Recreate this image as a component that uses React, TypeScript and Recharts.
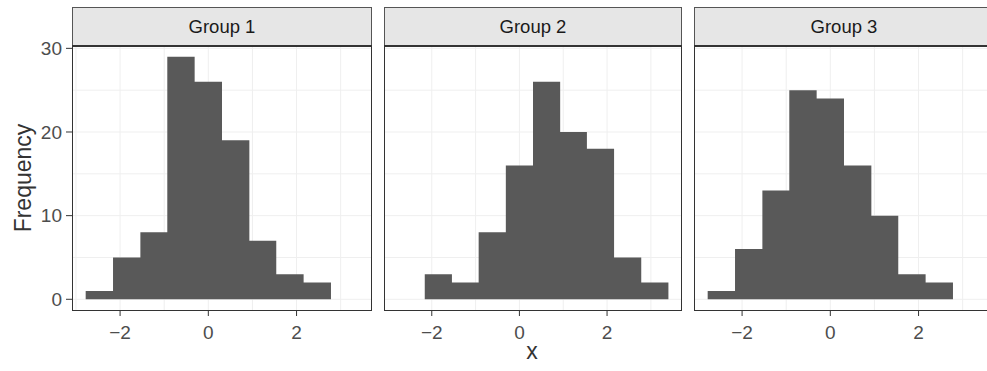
import { Area, AreaChart, CartesianGrid, XAxis, YAxis } from 'recharts';

const edgesA = [-2.78, -2.16, -1.54, -0.93, -0.31, 0.31, 0.93, 1.54, 2.16, 2.78];
const edgesB = [-2.16, -1.54, -0.93, -0.31, 0.31, 0.93, 1.54, 2.16, 2.78, 3.4];
const group1Counts = [1, 5, 8, 29, 26, 19, 7, 3, 2];
const group2Counts = [3, 2, 8, 16, 26, 20, 18, 5, 2];
const group3Counts = [1, 6, 13, 25, 24, 16, 10, 3, 2];
const groupNames = ['Group 1', 'Group 2', 'Group 3'];

const xTicks = [-2, 0, 2];
const xGrid = [-3, -2, -1, 0, 1, 2, 3];
const yTicks = [0, 10, 20, 30];
const yGrid = [0, 5, 10, 15, 20, 25, 30];

const X_DOMAIN: [number, number] = [-3.09, 3.71];
const Y_DOMAIN: [number, number] = [-1.4, 30.4];

const FONT = '"Liberation Sans", Arial, Helvetica, sans-serif';

function toSteps(edges: number[], counts: number[]) {
  return edges.map((x, i) => ({ x, count: counts[Math.min(i, counts.length - 1)] }));
}

const fmt = (v: number) => (v < 0 ? '\u2212' + Math.abs(v) : String(v));

interface PanelProps {
  name: string;
  edges: number[];
  counts: number[];
  left: number; // panel left edge
  width: number; // panel width
  showY?: boolean;
}

const PANEL_TOP = 45;
const PANEL_H = 266;
const Y_AXIS_W = 72;
const PAD_TOP = 20;

function Panel({ name, edges, counts, left, width, showY = false }: PanelProps) {
  const data = toSteps(edges, counts);
  const chartLeft = showY ? left - Y_AXIS_W : left;
  const chartW = showY ? width + Y_AXIS_W : width;
  return (
    <>
      <div
        style={{
          position: 'absolute',
          left,
          top: 7,
          width,
          height: PANEL_TOP - 7,
          boxSizing: 'border-box',
          background: '#e6e6e6',
          border: '1px solid #555',
          borderBottom: 'none',
          display: 'flex',
          alignItems: 'center',
          justifyContent: 'center',
          fontSize: 18.5,
          color: '#1a1a1a',
        }}
      >
        {name}
      </div>
      <div style={{ position: 'absolute', left: chartLeft, top: PANEL_TOP - PAD_TOP }}>
        <AreaChart
          width={chartW}
          height={PANEL_H + 34 + PAD_TOP}
          data={data}
          margin={{ top: PAD_TOP, right: 0, bottom: 0, left: 0 }}
        >
          <CartesianGrid stroke="#efefef" horizontalValues={yGrid} verticalValues={xGrid} />
          <XAxis
            type="number"
            dataKey="x"
            domain={X_DOMAIN}
            allowDataOverflow
            ticks={xTicks}
            tickFormatter={fmt}
            axisLine={false}
            tickLine={{ stroke: '#333' }}
            tickSize={5}
            tickMargin={10}
            height={34}
            tick={{ fontSize: 19, fill: '#4d4d4d', fontFamily: FONT }}
          />
          <YAxis
            type="number"
            domain={Y_DOMAIN}
            allowDataOverflow
            ticks={yTicks}
            interval={0}
            hide={!showY}
            width={Y_AXIS_W}
            axisLine={false}
            tickLine={{ stroke: '#333' }}
            tickSize={6}
            tickMargin={4}
            tick={{ fontSize: 19, fill: '#4d4d4d', fontFamily: FONT }}
          />
          <Area
            type="stepAfter"
            dataKey="count"
            baseValue={0}
            stroke="none"
            fill="#595959"
            fillOpacity={1}
            isAnimationActive={false}
          />
        </AreaChart>
      </div>
      <div
        style={{
          position: 'absolute',
          left,
          top: PANEL_TOP,
          width,
          height: PANEL_H,
          boxSizing: 'border-box',
          border: '1px solid #333',
          borderTopWidth: 2,
          pointerEvents: 'none',
        }}
      />
    </>
  );
}

export default function App() {
  return (
    <div
      style={{
        position: 'fixed',
        left: 0,
        top: 0,
        width: 987,
        height: 371,
        overflow: 'hidden',
        background: '#fff',
        fontFamily: FONT,
      }}
    >
      <Panel name={groupNames[0]} edges={edgesA} counts={group1Counts} left={72} width={300} showY />
      <Panel name={groupNames[1]} edges={edgesB} counts={group2Counts} left={384} width={298} />
      <Panel name={groupNames[2]} edges={edgesA} counts={group3Counts} left={694} width={300} />
      <div
        style={{
          position: 'absolute',
          left: 23,
          top: 178,
          transform: 'translate(-50%, -50%) rotate(-90deg)',
          fontSize: 23,
          color: '#333',
          whiteSpace: 'nowrap',
        }}
      >
        Frequency
      </div>
      <div
        style={{
          position: 'absolute',
          left: 532,
          top: 351,
          transform: 'translate(-50%, -50%)',
          fontSize: 23,
          color: '#333',
        }}
      >
        x
      </div>
    </div>
  );
}
